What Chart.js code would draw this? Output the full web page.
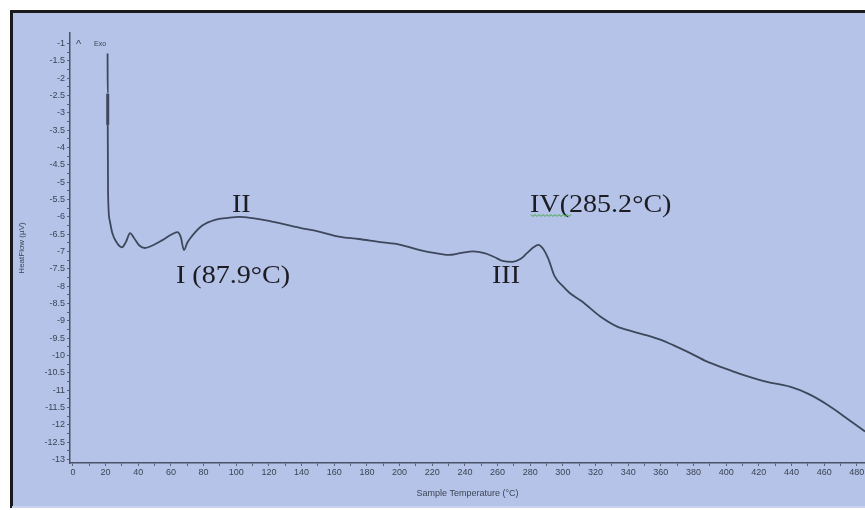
<!DOCTYPE html>
<html>
<head>
<meta charset="utf-8">
<script src="https://cdn.jsdelivr.net/npm/chart.js@4/dist/chart.umd.min.js"></script>
<style>
  html, body { margin: 0; padding: 0; background: #fff; }
  #dsc { display: block; }
</style>
</head>
<body>
<canvas id="dsc" width="865" height="510"></canvas>
<script>
// DSC thermogram - heat flow vs sample temperature

// sample temperature (°C)
const temps = [21.2, 21.3, 21.3, 21.5, 22.5, 24.0, 26.5, 30.0, 32.5, 35.0,
    37.5, 40.5, 44.0, 49.0, 54.5, 60.0, 64.0, 66.0, 68.0, 70.0,
    73.0, 79.0, 87.0, 95.0, 102.0, 110.0, 120.0, 139.0, 150.0, 163.5,
    175.0, 188.0, 200.0, 212.5, 222.0, 230.0, 238.0, 245.0, 252.0, 258.0,
    263.0, 269.0, 274.0, 278.0, 282.0, 285.0, 288.0, 291.0, 295.0, 300.0,
    304.0, 312.0, 322.5, 333.0, 342.0, 351.5, 360.0, 367.5, 378.0, 388.0,
    398.0, 408.0, 425.0, 439.0, 450.0, 462.0, 475.0, 485.0];

// heat flow (µV)
const heatFlow = [-1.29, -2.45, -3.35, -5.3, -6.1, -6.45, -6.72, -6.88, -6.72, -6.47,
    -6.62, -6.82, -6.90, -6.82, -6.68, -6.52, -6.44, -6.58, -6.96, -6.75,
    -6.55, -6.26, -6.09, -6.03, -6.00, -6.04, -6.12, -6.32, -6.42, -6.58,
    -6.64, -6.73, -6.80, -6.96, -7.05, -7.10, -7.04, -7.00, -7.05, -7.16,
    -7.27, -7.30, -7.22, -7.05, -6.88, -6.81, -6.93, -7.20, -7.72, -8.00,
    -8.19, -8.45, -8.86, -9.16, -9.30, -9.42, -9.55, -9.70, -9.93, -10.17,
    -10.35, -10.52, -10.76, -10.90, -11.10, -11.42, -11.85, -12.19];

// labelled tick values
const xTickLabels = [0, 20, 40, 60, 80, 100, 120, 140, 160, 180, 200, 220, 240,
    260, 280, 300, 320, 340, 360, 380, 400, 420, 440, 460, 480];
const yTickLabels = [-1, -1.5, -2, -2.5, -3, -3.5, -4, -4.5, -5, -5.5, -6, -6.5, -7,
    -7.5, -8, -8.5, -9, -9.5, -10, -10.5, -11, -11.5, -12, -12.5, -13];

// peak annotations
const peakLabels = ['I (87.9°C)', 'II', 'III', 'IV(285.2°C)'];

const points = temps.map((t, i) => ({ x: t, y: heatFlow[i] }));

// add minor ticks half way between labelled ones
function withMinor(major) {
    const out = [];
    for (let i = 0; i < major.length; i++) {
        out.push(major[i]);
        if (i < major.length - 1) out.push((major[i] + major[i + 1]) / 2);
    }
    return out;
}

const tickFont = { family: 'Liberation Sans, Arial, sans-serif', size: 9 };
const tickColor = '#3c4455';

// background + frame
const framePlugin = {
    id: 'frame',
    beforeDraw(chart) {
        const ctx = chart.ctx;
        ctx.save();
        ctx.fillStyle = '#ffffff';
        ctx.fillRect(0, 0, chart.width, chart.height);
        ctx.fillStyle = '#b4c3e7';
        ctx.fillRect(12, 12, chart.width - 12, 495);
        ctx.fillStyle = '#1a1a1a';
        ctx.fillRect(10, 10, 3, 498);
        ctx.fillRect(10, 10, chart.width - 10, 3);
        ctx.fillStyle = '#c9d3ee';
        ctx.fillRect(12, 506, chart.width - 12, 2);
        ctx.restore();
    }
};

// draw text slightly stretched sideways, like the pasted labels
function wideText(ctx, text, x, y) {
    ctx.save();
    ctx.translate(x, y);
    ctx.scale(1.08, 1);
    ctx.fillText(text, 0, 0);
    ctx.restore();
}

// peak labels and Exo marker
const notesPlugin = {
    id: 'notes',
    afterDatasetsDraw(chart) {
        const ctx = chart.ctx;
        ctx.save();
        ctx.fillStyle = '#1c1c22';
        ctx.textBaseline = 'alphabetic';
        ctx.textAlign = 'left';
        ctx.font = '26px "Liberation Serif", "Times New Roman", serif';
        wideText(ctx, peakLabels[0], 176, 283);
        wideText(ctx, peakLabels[1], 232, 212);
        wideText(ctx, peakLabels[2], 492, 283);
        wideText(ctx, peakLabels[3], 530, 212);

        // spell-check squiggle under IV
        ctx.strokeStyle = '#3aa83a';
        ctx.lineWidth = 1;
        ctx.beginPath();
        for (let x = 531, k = 0; x <= 571; x += 2, k++) {
            const y = 215 + (k % 2 ? 1.5 : -0.5);
            if (k === 0) ctx.moveTo(x, y); else ctx.lineTo(x, y);
        }
        ctx.stroke();

        ctx.fillStyle = '#3c4455';
        ctx.font = '11px "Liberation Sans", sans-serif';
        ctx.fillText('^', 76, 48);
        ctx.font = '7px "Liberation Sans", sans-serif';
        ctx.fillText('Exo', 94, 46);
        ctx.restore();
    }
};

new Chart(document.getElementById('dsc'), {
    type: 'line',
    data: {
        datasets: [{
            data: points,
            borderColor: '#3e475b',
            borderWidth: 1.8,
            pointRadius: 0,
            cubicInterpolationMode: 'monotone',
            fill: false,
            segment: {
                borderWidth: c => (c.p0DataIndex === 1 ? 3 : 1.8)
            }
        }]
    },
    options: {
        responsive: false,
        animation: false,
        devicePixelRatio: 1,
        layout: { padding: { left: 12, top: 33, right: 0, bottom: 11 } },
        plugins: {
            legend: { display: false },
            tooltip: { enabled: false }
        },
        scales: {
            x: {
                type: 'linear',
                min: -1.8,
                max: 485,
                afterBuildTicks: axis => {
                    axis.ticks = withMinor(xTickLabels).map(v => ({ value: v }));
                },
                afterFit: axis => {
                    axis.height = 36;
                    axis.paddingLeft = 0;
                    axis.paddingRight = 0;
                },
                ticks: {
                    autoSkip: false,
                    maxRotation: 0,
                    padding: 1,
                    font: tickFont,
                    color: tickColor,
                    callback: v => (xTickLabels.includes(v) ? String(v) : '')
                },
                grid: { drawOnChartArea: false, tickLength: 3, color: '#5a6378' },
                border: { color: '#4a5366', width: 1.5 },
                title: {
                    display: true,
                    text: 'Sample Temperature (°C)',
                    font: { family: 'Liberation Sans, Arial, sans-serif', size: 9 },
                    color: tickColor,
                    padding: { top: 0, bottom: 0 }
                }
            },
            y: {
                type: 'linear',
                min: -13.1,
                max: -0.7,
                afterBuildTicks: axis => {
                    axis.ticks = withMinor(yTickLabels).map(v => ({ value: v }));
                },
                afterFit: axis => {
                    axis.width = 58;
                    axis.paddingTop = 0;
                    axis.paddingBottom = 0;
                },
                ticks: {
                    autoSkip: false,
                    padding: 2,
                    font: tickFont,
                    color: tickColor,
                    callback: v => (yTickLabels.includes(v) ? String(v) : '')
                },
                grid: { drawOnChartArea: false, tickLength: 3, color: '#5a6378' },
                border: { color: '#4a5366', width: 1.5 },
                title: {
                    display: true,
                    text: 'HeatFlow (µV)',
                    font: { family: 'Liberation Sans, Arial, sans-serif', size: 8 },
                    color: tickColor,
                    padding: { top: 5, bottom: 0 }
                }
            }
        }
    },
    plugins: [framePlugin, notesPlugin]
});
</script>
</body>
</html>
